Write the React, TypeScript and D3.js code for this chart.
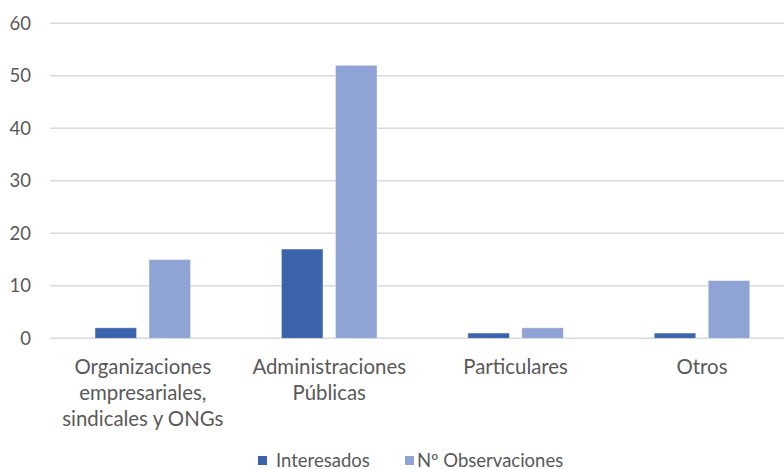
import React from "react";
import * as d3 from "d3";

const categories = [
  ["Organizaciones", "empresariales,", "sindicales y ONGs"],
  ["Administraciones", "Públicas"],
  ["Particulares"],
  ["Otros"],
];
const seriesNames = ["Interesados", "Nº Observaciones"];
const interesados = [2, 17, 1, 1];
const observaciones = [15, 52, 2, 11];
const yTicks = [0, 10, 20, 30, 40, 50, 60];
const colors = ["#3c64ad", "#8fa4d5"];

const W = 784;
const H = 469;
const FONT = "Lato, 'Open Sans', sans-serif";

export default function App() {
  const seriesValues = [interesados, observaciones];
  const y = d3.scaleLinear().domain([0, 60]).range([338.3, 23.3]);
  const x0 = d3
    .scaleBand<number>()
    .domain(categories.map((_, i) => i))
    .range([49.6, 795.2])
    .padding(0);
  const inner0 = 45.4;
  const x1 = d3
    .scaleBand<number>()
    .domain([0, 1])
    .range([inner0, inner0 + 95.6])
    .paddingInner(0.23)
    .paddingOuter(0);

  return (
    <svg
      width={W}
      height={H}
      style={{ position: "absolute", left: 0, top: 0, background: "#fff" }}
      fontFamily={FONT}
    >
      {yTicks.map((t) => (
        <g key={t}>
          <line
            x1={50}
            x2={W}
            y1={y(t)}
            y2={y(t)}
            stroke="#d9d9d9"
            strokeWidth={1.5}
          />
          <text
            x={31}
            y={y(t)}
            dy="0.36em"
            textAnchor="end"
            fontSize={18.5}
            fill="#595959"
          >
            {t}
          </text>
        </g>
      ))}
      {categories.map((_, ci) =>
        seriesValues.map((vals, si) => (
          <rect
            key={`${ci}-${si}`}
            x={(x0(ci) as number) + (x1(si) as number)}
            y={y(vals[ci])}
            width={x1.bandwidth()}
            height={y(0) - y(vals[ci])}
            fill={colors[si]}
            stroke="#ffffff"
            strokeOpacity={0.5}
            strokeWidth={0.8}
          />
        ))
      )}
      {categories.map((lines, ci) => (
        <text
          key={ci}
          x={(x0(ci) as number) + x0.bandwidth() / 2}
          y={374}
          textAnchor="middle"
          fontSize={20.4}
          fill="#595959"
        >
          {lines.map((l, li) => (
            <tspan
              key={li}
              x={(x0(ci) as number) + x0.bandwidth() / 2}
              dy={li === 0 ? 0 : 26}
            >
              {l}
            </tspan>
          ))}
        </text>
      ))}
      <g>
        <rect x={258} y={456} width={9} height={9} fill={colors[0]} />
        <text x={276} y={466.5} fontSize={18.5} fill="#595959">
          {seriesNames[0]}
        </text>
        <rect x={405} y={456} width={9} height={9} fill={colors[1]} />
        <text x={417} y={466.5} fontSize={18.5} fill="#595959">
          {seriesNames[1]}
        </text>
      </g>
    </svg>
  );
}
